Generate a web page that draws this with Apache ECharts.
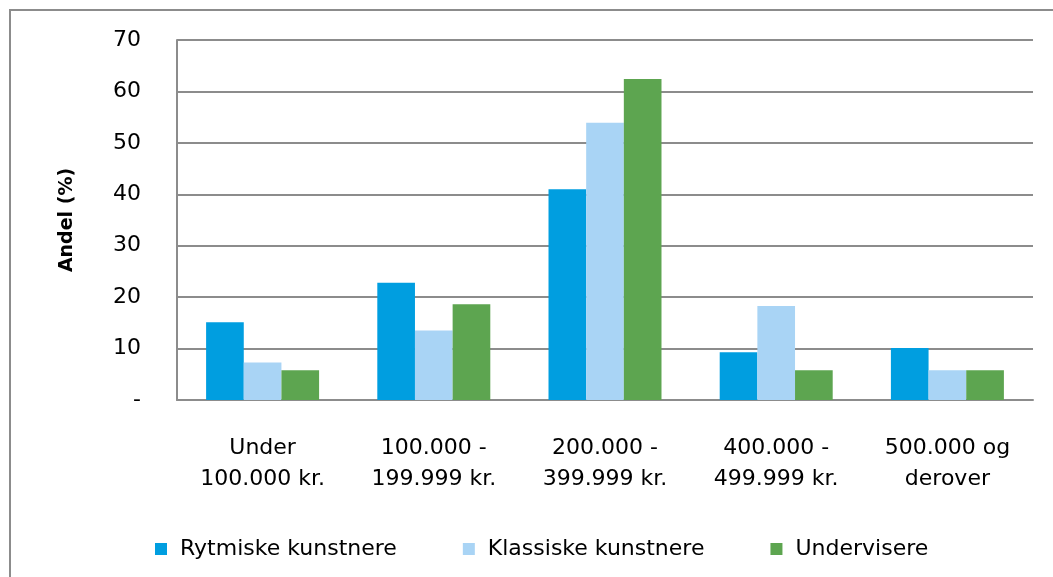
<!DOCTYPE html>
<html>
<head>
<meta charset="utf-8">
<script src="https://cdn.jsdelivr.net/npm/echarts@6/dist/echarts.min.js"></script>
<style>
  html, body { margin: 0; padding: 0; background: #fff; }
  #chart { width: 1053px; height: 577px; }
</style>
</head>
<body>
<div id="chart"></div>
<script>
// Income brackets (x-axis categories)
const categories = [
  'Under\n100.000 kr.',
  '100.000 -\n199.999 kr.',
  '200.000 -\n399.999 kr.',
  '400.000 -\n499.999 kr.',
  '500.000 og\nderover'
];

// Share (%) per group
const rytmiske = [15.1, 22.8, 41.0, 9.3, 10.1];
const klassiske = [7.3, 13.5, 53.9, 18.3, 5.8];
const undervisere = [5.8, 18.6, 62.4, 5.8, 5.8];

const seriesNames = ['Rytmiske kunstnere', 'Klassiske kunstnere', 'Undervisere'];
const seriesColors = ['#009ee0', '#a9d4f5', '#5da550'];

const FONT = 'DejaVu Sans';
const chart = echarts.init(document.getElementById('chart'));

chart.setOption({
  animation: false,
  textStyle: { fontFamily: FONT, color: '#000' },
  graphic: [{
    type: 'rect',
    shape: { x: 10, y: 10, width: 1100, height: 700 },
    style: { fill: 'none', stroke: '#8c8c8c', lineWidth: 2 },
    silent: true
  }],
  grid: { left: 177, right: 20, top: 40, bottom: 177, containLabel: false },
  legend: {
    left: 150,
    top: 533,
    itemWidth: 12,
    itemHeight: 12,
    itemGap: 66,
    icon: 'rect',
    textStyle: { fontFamily: FONT, fontSize: 22, color: '#000', padding: [0, 0, 0, 8] },
    data: seriesNames
  },
  xAxis: {
    type: 'category',
    data: categories,
    axisLine: { show: true, lineStyle: { color: '#8c8c8c', width: 2 } },
    axisTick: { show: false },
    axisLabel: {
      fontFamily: FONT, fontSize: 22, color: '#000',
      margin: 33, lineHeight: 31, interval: 0
    }
  },
  yAxis: {
    type: 'value',
    min: 0,
    max: 70,
    interval: 10,
    name: 'Andel (%)',
    nameLocation: 'middle',
    nameRotate: 90,
    nameGap: 100,
    nameTextStyle: { fontFamily: FONT, fontSize: 19, fontWeight: 'bold', color: '#000' },
    axisLine: { show: true, lineStyle: { color: '#8c8c8c', width: 2 } },
    axisTick: { show: false },
    splitLine: { show: true, lineStyle: { color: '#8c8c8c', width: 2 } },
    axisLabel: {
      fontFamily: FONT, fontSize: 22, color: '#000', margin: 36,
      formatter: v => (v === 0 ? '-' : String(v))
    }
  },
  series: [rytmiske, klassiske, undervisere].map((d, i) => ({
    name: seriesNames[i],
    type: 'bar',
    data: d,
    barGap: '0%',
    barCategoryGap: '34%',
    itemStyle: { color: seriesColors[i] }
  }))
});
</script>
</body>
</html>
